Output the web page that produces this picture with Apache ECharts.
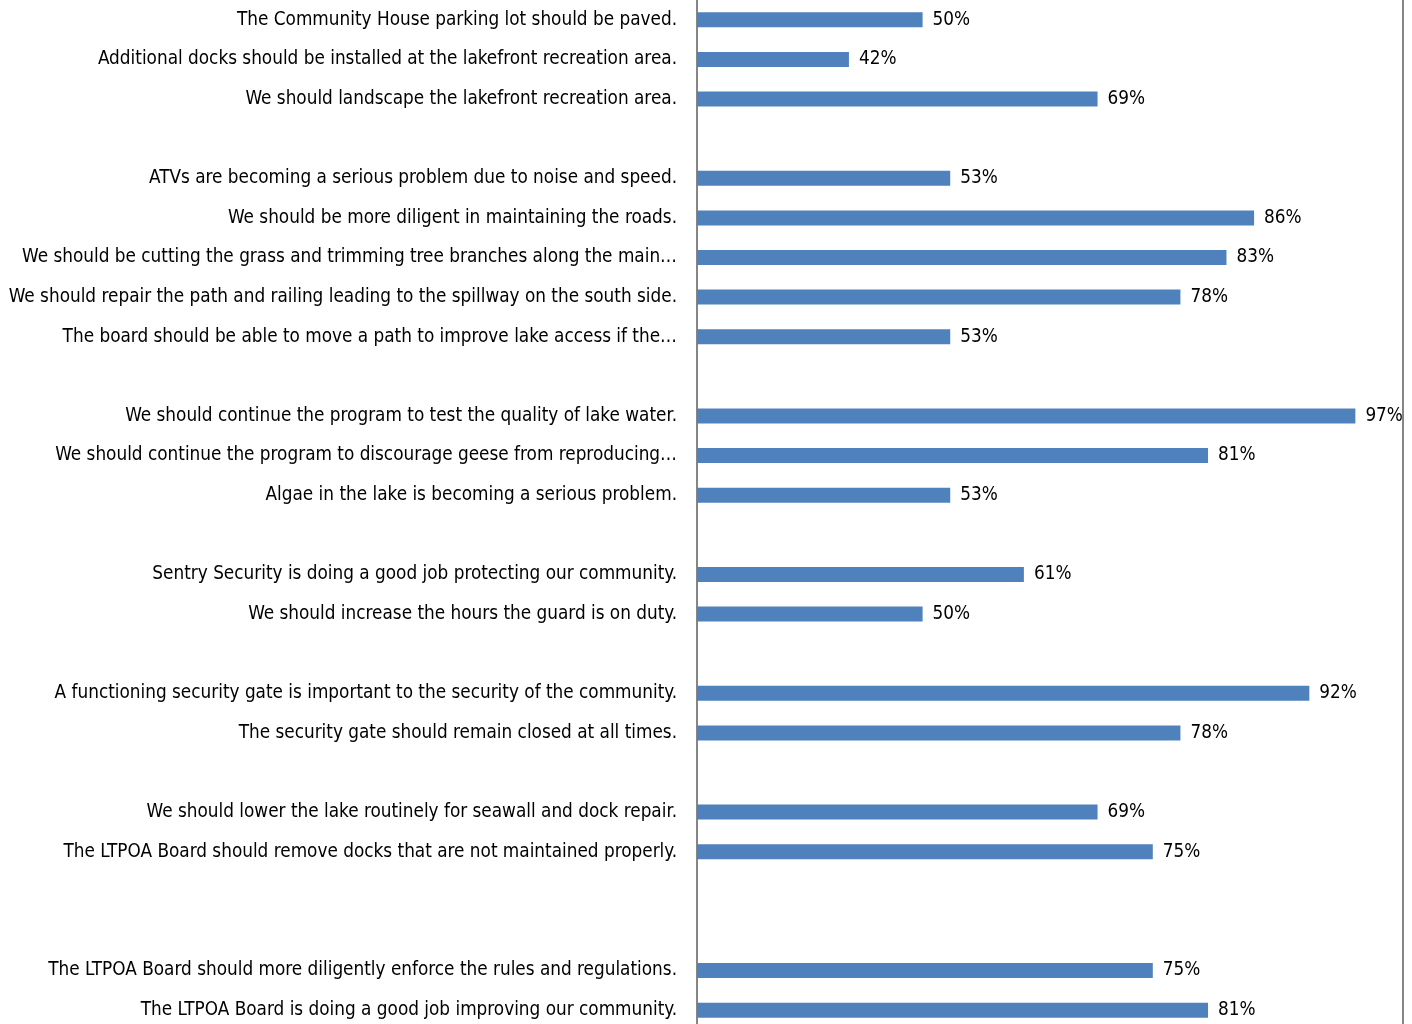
<!DOCTYPE html>
<html>
<head>
<meta charset="utf-8">
<script src="https://cdn.jsdelivr.net/npm/echarts@6/dist/echarts.min.js"></script>
<style>html,body{margin:0;padding:0;background:#fff}#c{width:1412px;height:1024px}</style>
</head>
<body>
<div id="c"></div>
<script>
const categories = [
  "The Community House parking lot should be paved.",
  "Additional docks should be installed at the lakefront recreation area.",
  "We should landscape the lakefront recreation area.",
  "",
  "ATVs are becoming a serious problem due to noise and speed.",
  "We should be more diligent in maintaining the roads.",
  "We should be cutting the grass and trimming tree branches along the main…",
  "We should repair the path and railing leading to the spillway on the south side.",
  "The board should be able to move a path to improve lake access if the…",
  "",
  "We should continue the program to test the quality of lake water.",
  "We should continue the program to discourage geese from reproducing…",
  "Algae in the lake is becoming a serious problem.",
  "",
  "Sentry Security is doing a good job protecting our community.",
  "We should increase the hours the guard is on duty.",
  "",
  "A functioning security gate is important to the security of the community.",
  "The security gate should remain closed at all times.",
  "",
  "We should lower the lake routinely for seawall and dock repair.",
  "The LTPOA Board should remove docks that are not maintained properly.",
  "",
  "",
  "The LTPOA Board should more diligently enforce the rules and regulations.",
  "The LTPOA Board is doing a good job improving our community."
];
const agreePct = [50, 42, 69, '-', 53, 86, 83, 78, 53, '-', 97, 81, 53, '-', 61, 50, '-', 92, 78, '-', 69, 75, '-', '-', 75, 81];

const chart = echarts.init(document.getElementById('c'));
const font = '"DejaVu Sans Condensed", "Liberation Sans Narrow", sans-serif';
chart.setOption({
  animation: false,
  grid: { left: 697, right: 29, top: 0, bottom: -6, containLabel: false, outerBoundsMode: 'none' },
  xAxis: {
    type: 'value', min: 25.5, max: 100,
    show: false
  },
  yAxis: {
    type: 'category', inverse: true, data: categories,
    axisLine: { show: true, lineStyle: { color: '#868686', width: 2 } },
    axisTick: { show: false },
    splitLine: { show: false },
    axisLabel: { margin: 20, fontFamily: font, fontSize: 18.8, color: '#000', interval: 0 }
  },
  series: [{
    type: 'bar', data: agreePct, barWidth: 15,
    itemStyle: { color: '#4F81BD' },
    label: { show: true, position: 'right', distance: 10, formatter: '{c}%', fontFamily: font, fontSize: 18.8, color: '#000' }
  }],
  graphic: [{
    type: 'line', shape: { x1: 1403, y1: 0, x2: 1403, y2: 1024 },
    style: { stroke: '#868686', lineWidth: 2 }
  }]
});
</script>
</body>
</html>
